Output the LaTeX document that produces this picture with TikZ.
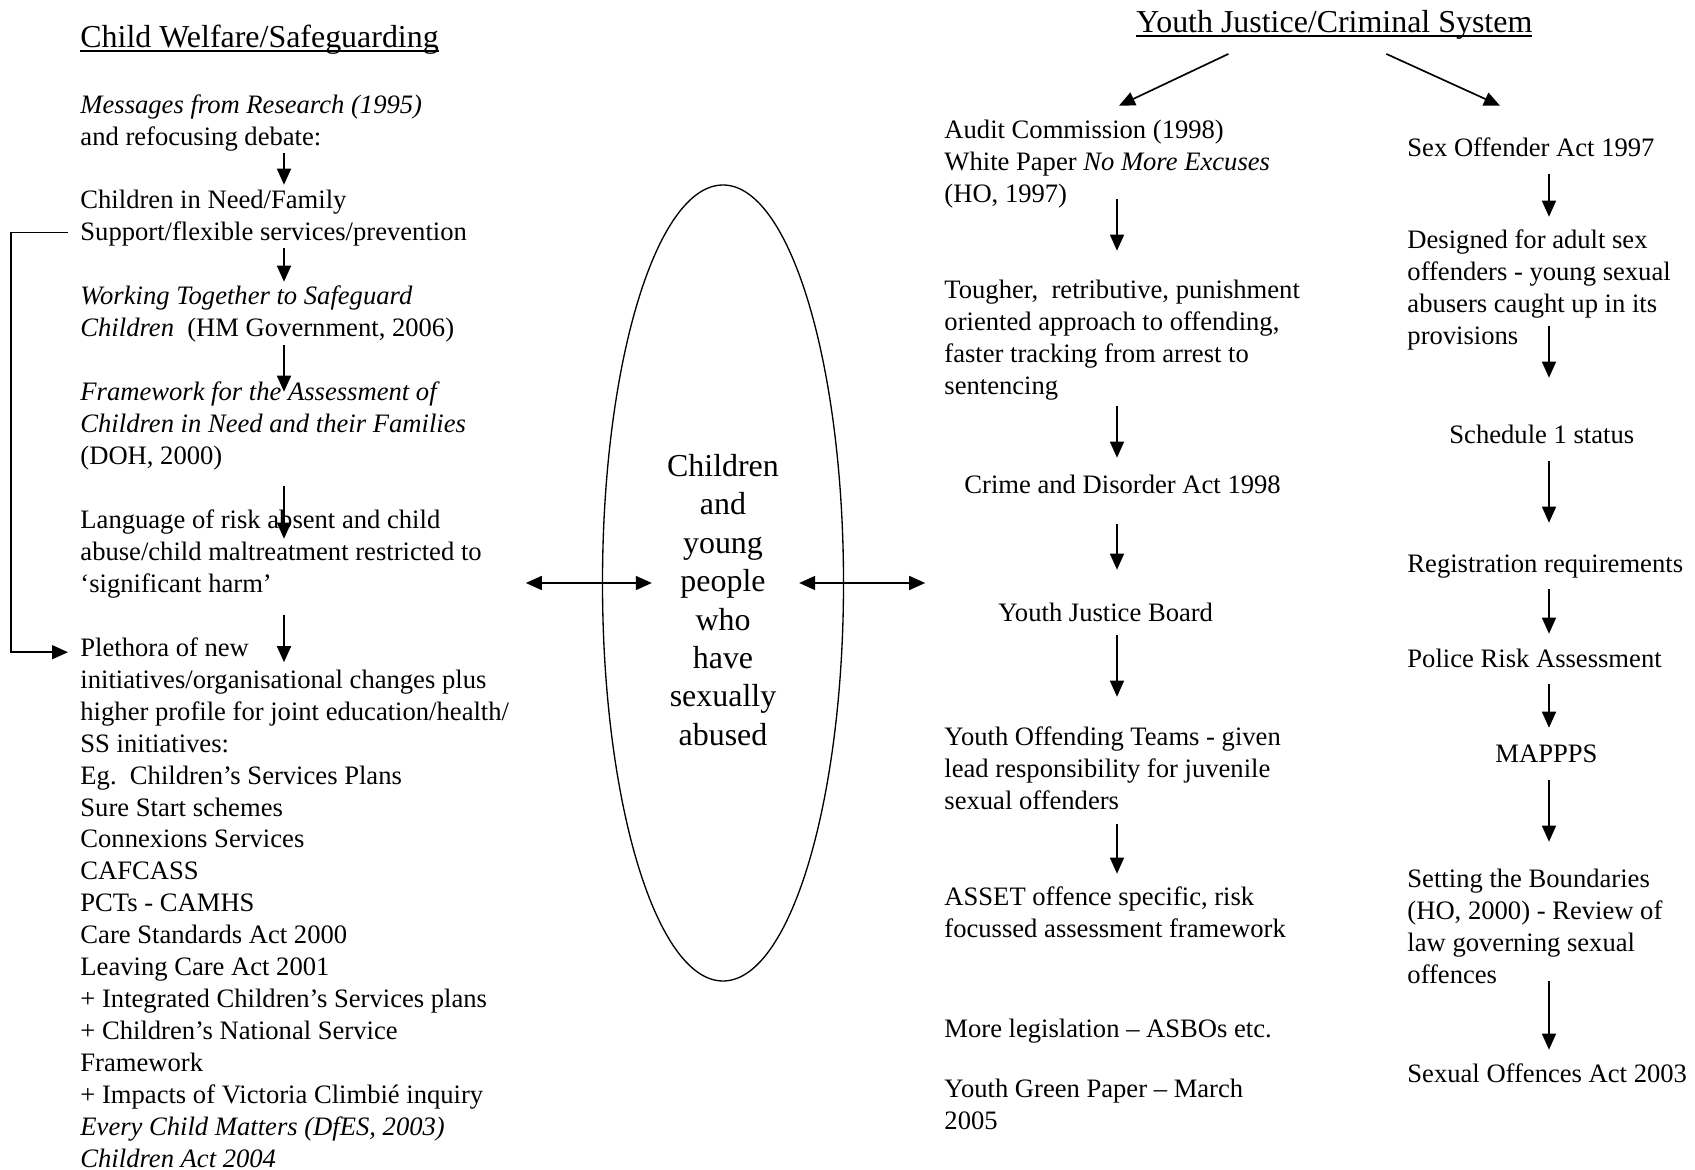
\documentclass[tikz,border=0pt]{standalone}
\usepackage{fontspec}
\setmainfont{Liberation Serif}
\usetikzlibrary{arrows.meta,calc,shapes.geometric}

% underline at a fixed depth, through the descenders
\newcommand{\ulin}[1]{\setbox0\hbox{#1}\rlap{\rule[-1.6pt]{\wd0}{0.6pt}}\box0}

\tikzset{
  txt/.style={anchor=north west, inner sep=0pt, align=left,
    font=\fontsize{12}{14.4}\selectfont,
    execute at begin node=\strut, execute at end node=\strut},
  ttl/.style={txt, font=\fontsize{14.4}{17.3}\selectfont},
  kid/.style={anchor=north, inner sep=0pt, align=center,
    font=\fontsize{14.4}{17.3}\selectfont,
    execute at begin node=\strut, execute at end node=\strut},
  arr/.style={-{Triangle[length=7.2pt,width=6.3pt]}, line width=0.75pt},
  darr/.style={{Triangle[length=7.2pt,width=6.3pt]}-{Triangle[length=7.2pt,width=6.3pt]}, line width=0.75pt},
}

\begin{document}
\begin{tikzpicture}[x=0.451pt,y=-0.451pt]
\useasboundingbox (0,0) rectangle (1695,1170);

% arrow columns
\coordinate (lx) at (284,0);
\coordinate (rx1) at (1117,0);
\coordinate (rx2) at (1549,0);

% child welfare column
\node[ttl] (ttll) at (80,20.7) {\ulin{Child Welfare/Safeguarding}};
\node[txt] (msg) at (80,94.7) {\textit{Messages from Research (1995)}\\and refocusing debate:};
\node[txt] (cin) at (80,189.7) {Children in Need/Family\\Support/flexible services/prevention};
\node[txt] (wt) at (80,285.7) {\textit{Working Together to Safeguard}\\\textit{Children}\ \ (HM Government, 2006)};
\node[txt] (fw) at (80,381.7) {\textit{Framework for the Assessment of}\\\textit{Children in Need and their Families}\\(DOH, 2000)};
\node[txt] (lang) at (80,509.7) {Language of risk absent and child\\abuse/child maltreatment restricted to\\‘significant harm’};
\node[txt] (pl) at (80,637.2) {Plethora of new\\initiatives/organisational changes plus\\higher profile for joint education/health/\\SS initiatives:\\Eg.\ \ Children’s Services Plans\\Sure Start schemes\\Connexions Services\\CAFCASS\\PCTs - CAMHS\\Care Standards Act 2000\\Leaving Care Act 2001\\+ Integrated Children’s Services plans\\+ Children’s National Service\\Framework\\+ Impacts of Victoria Climbié inquiry\\\textit{Every Child Matters (DfES, 2003)}\\\textit{Children Act 2004}};

\draw[arr] ($(msg.south -| lx)+(0,-3)$) -- ($(cin.north -| lx)+(0,-5)$);
\draw[arr] ($(cin.south -| lx)+(0,-3)$) -- ($(wt.north -| lx)+(0,-4)$);
\draw[arr] ($(wt.south -| lx)+(0,-2)$) -- ($(fw.north -| lx)+(0,10)$);
\draw[arr] ($(fw.south -| lx)+(0,11)$) -- ($(lang.north -| lx)+(0,29)$);
\draw[arr] ($(lang.south -| lx)+(0,12)$) -- ($(pl.north -| lx)+(0,25)$);

% loop back round the side
\draw[arr] ($(cin.south west)+(-12,-18)$) -- ++(-57,0) |- ($(pl.north west)+(-12,15)$);

% middle
\node[draw, ellipse, minimum width=108.7pt, minimum height=359pt, inner sep=0pt, line width=0.6pt] (ell) at (723,583) {};
\node[kid] (kids) at ($(ell.center)+(0,-129)$) {Children\\and\\young\\people\\who\\have\\sexually\\abused};
\draw[darr] ($(ell.west)+(-76,0)$) -- ($(ell.west)+(50,0)$);
\draw[darr] ($(ell.east)+(-45,0)$) -- ($(ell.east)+(81,0)$);

% youth justice columns
\node[ttl] (ttlr) at (1136,5.7) {\ulin{Youth Justice/Criminal System}};

\node[txt] (ac) at (944,119.7) {Audit Commission (1998)\\White Paper \textit{No More Excuses}\\(HO, 1997)};
\node[txt] (tough) at (944,279.7) {Tougher,\ \ retributive, punishment\\oriented approach to offending,\\faster tracking from arrest to\\sentencing};
\node[txt] (crime) at (964,470.7) {Crime and Disorder Act 1998};
\node[txt] (yjb) at (998,598.7) {Youth Justice Board};
\node[txt] (yot) at (944,726.7) {Youth Offending Teams - given\\lead responsibility for juvenile\\sexual offenders};
\node[txt] (asset) at (944,886.7) {ASSET offence specific, risk\\focussed assessment framework};
\node[txt] (more) at (944,1014.7) {More legislation – ASBOs etc.};
\node[txt] (green) at (944,1078.7) {Youth Green Paper – March\\2005};

\node[txt] (soa) at (1407,133.7) {Sex Offender Act 1997};
\node[txt] (des) at (1407,229.7) {Designed for adult sex\\offenders - young sexual\\abusers caught up in its\\provisions};
\node[txt] (sch) at (1449,420.7) {Schedule 1 status};
\node[txt] (reg) at (1407,549.7) {Registration requirements};
\node[txt] (pra) at (1407,644.7) {Police Risk Assessment};
\node[txt] (map) at (1495,739.7) {MAPPPS};
\node[txt] (stb) at (1407,868.7) {Setting the Boundaries\\(HO, 2000) - Review of\\law governing sexual\\offences};
\node[txt] (sexo) at (1407,1059.7) {Sexual Offences Act 2003};

\draw[arr] ($(ttlr.south)+(-106,9)$) -- ($(ac.north west)+(175,-14)$);
\draw[arr] ($(ttlr.south)+(52,9)$) -- ($(soa.north west)+(93,-28)$);

\draw[arr] ($(ac.south -| rx1)+(0,-13)$) -- ($(tough.north -| rx1)+(0,-29)$);
\draw[arr] ($(tough.south -| rx1)+(0,2)$) -- ($(crime.north -| rx1)+(0,-13)$);
\draw[arr] ($(crime.south -| rx1)+(0,20)$) -- ($(yjb.north -| rx1)+(0,-29)$);
\draw[arr] ($(yjb.south -| rx1)+(0,3)$) -- ($(yot.north -| rx1)+(0,-30)$);
\draw[arr] ($(yot.south -| rx1)+(0,4)$) -- ($(asset.north -| rx1)+(0,-13)$);

\draw[arr] ($(soa.south -| rx2)+(0,7)$) -- ($(des.north -| rx2)+(0,-13)$);
\draw[arr] ($(des.south -| rx2)+(0,-29)$) -- ($(sch.north -| rx2)+(0,-43)$);
\draw[arr] ($(sch.south -| rx2)+(0,7)$) -- ($(reg.north -| rx2)+(0,-27)$);
\draw[arr] ($(reg.south -| rx2)+(0,6)$) -- ($(pra.north -| rx2)+(0,-11)$);
\draw[arr] ($(pra.south -| rx2)+(0,6)$) -- ($(map.north -| rx2)+(0,-12)$);
\draw[arr] ($(map.south -| rx2)+(0,7)$) -- ($(stb.north -| rx2)+(0,-27)$);
\draw[arr] ($(stb.south -| rx2)+(0,-12)$) -- ($(sexo.north -| rx2)+(0,-10)$);

\end{tikzpicture}
\end{document}
